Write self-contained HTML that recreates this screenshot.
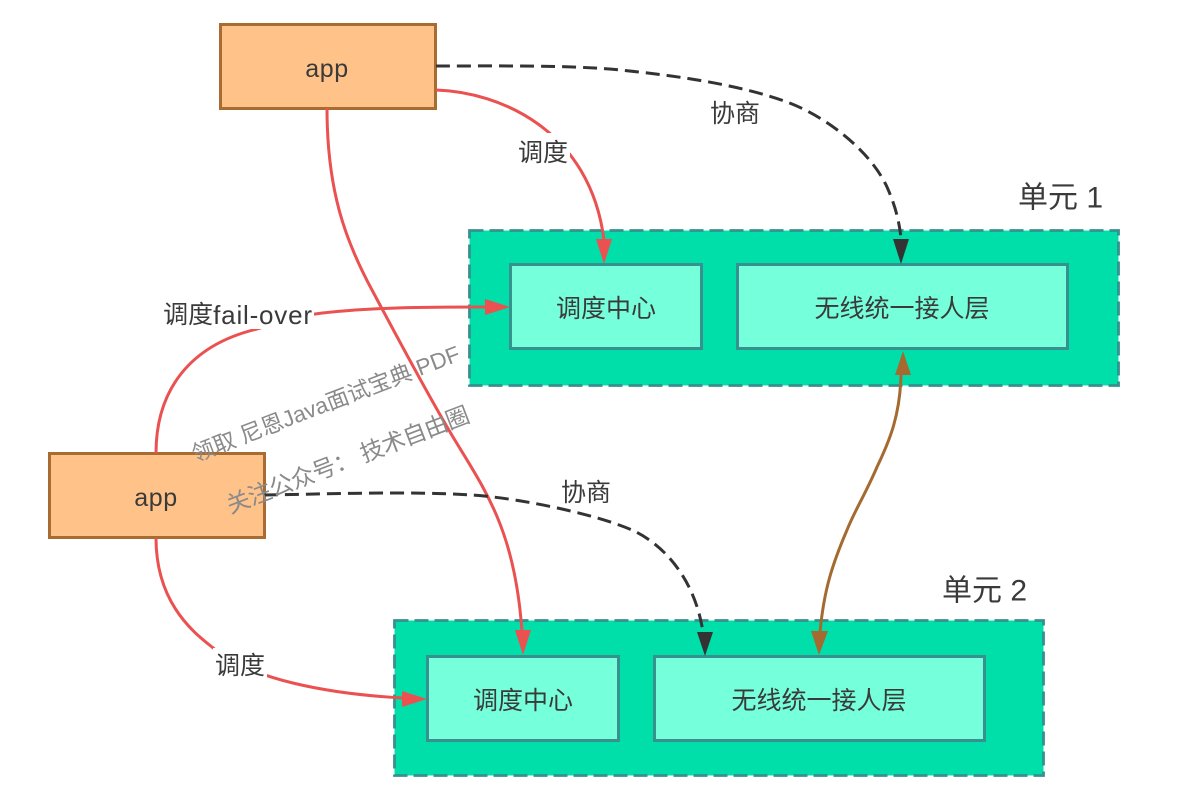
<!DOCTYPE html>
<html><head><meta charset="utf-8"><style>
html,body{margin:0;padding:0;background:#fff}
svg{display:block}
text{font-family:"Liberation Sans","Noto Sans CJK SC",sans-serif;fill:#3a3a3a;text-anchor:middle;dominant-baseline:central}
</style></head><body>
<svg width="1200" height="799" viewBox="0 0 1200 799" xmlns="http://www.w3.org/2000/svg">
<rect width="1200" height="799" fill="#fff"/>
<g fill="#00dfa9" stroke="#36918f" stroke-width="2.800" stroke-dasharray="14 6">
<rect x="469.500" y="230.500" width="649" height="155"/>
<rect x="394.500" y="620.500" width="649" height="155"/>
</g>
<g fill="#76ffdb" stroke="#36918f" stroke-width="3">
<rect x="510.500" y="264.500" width="191" height="84"/>
<rect x="737.500" y="264.500" width="330" height="84"/>
<rect x="427.500" y="656.500" width="191" height="84"/>
<rect x="654.500" y="656.500" width="330" height="84"/>
</g>
<g fill="#ffc288" stroke="#a86c33" stroke-width="3">
<rect x="220.500" y="24.500" width="215" height="84"/>
<rect x="49.500" y="453.500" width="215" height="84"/>
</g>
<g fill="none" stroke-width="3">
<path d="M436,90 C500,92 590,130 604,240" stroke="#ea5150"/>
<path d="M327,108 C327,190 345,240 372,290 C395,333 425,390 453,437 C485,490 515,530 522,632" stroke="#ea5150"/>
<path d="M156,453 C156,390 190,345 257,329 C280,322 300,316 315,314 C370,307 430,307 486,307" stroke="#ea5150"/>
<path d="M156,538 C156,600 190,630 212,647 C250,680 330,694 403,698" stroke="#ea5150"/>
<path d="M436,66 C500,66 570,65 620,70 C680,76 740,85 787,102 C825,116 870,150 887,187 C895,205 899,220 901,238" stroke="#333" stroke-dasharray="14 7"/>
<path d="M264,495 C330,494 410,491 471,495 C510,497 590,512 632,530 C665,545 695,580 703,632" stroke="#333" stroke-dasharray="14 7"/>
<path d="M901,375 C900,415 890,440 877,467 C865,495 855,510 847,530 C832,565 824,590 820,632" stroke="#a56a2f"/>
</g>
<polygon points="604,264 596,239 612,239" fill="#ea5150"/>
<polygon points="523,655 515,630 531,630" fill="#ea5150"/>
<polygon points="510,307 485,299 485,315" fill="#ea5150"/>
<polygon points="427,699 402,691 402,707" fill="#ea5150"/>
<polygon points="901,264 893,239 909,239" fill="#333"/>
<polygon points="705,656 697,632 713,632" fill="#333"/>
<polygon points="903,351 895,375 911,375" fill="#a56a2f"/>
<polygon points="819,655 811,631 828,631" fill="#a56a2f"/>
<g fill="#fff">
<rect x="516" y="133" width="54" height="40"/>
<rect x="162" y="296" width="152" height="33"/>
<rect x="213" y="648" width="54" height="36"/>
</g>
<g font-size="25">
<text x="327" y="69" letter-spacing=".6">app</text>
<text x="156" y="498" letter-spacing=".6">app</text>
<text x="606" y="309">调度中心</text>
<text x="902" y="309">无线统一接人层</text>
<text x="523" y="701">调度中心</text>
<text x="819" y="701">无线统一接人层</text>
<text x="543" y="153">调度</text>
<text x="735" y="114">协商</text>
<text x="586" y="493">协商</text>
<text x="238" y="315">调度<tspan font-size="26" letter-spacing=".8">fail-over</tspan></text>
<text x="240" y="666">调度</text>
</g>
<g font-size="30">
<text x="1060.500" y="198">单元 1</text>
<text x="984.500" y="591">单元 2</text>
</g>
<g>
<text font-size="22.500" style="fill:#8a8a8a" transform="translate(326,404) rotate(-21)">领取 尼恩Java面试宝典 PDF</text>
<text font-size="23.500" style="fill:#8a8a8a" transform="translate(348,460) rotate(-21)" textLength="258">关注公众号： 技术自由圈</text>
</g>
</svg>
</body></html>
